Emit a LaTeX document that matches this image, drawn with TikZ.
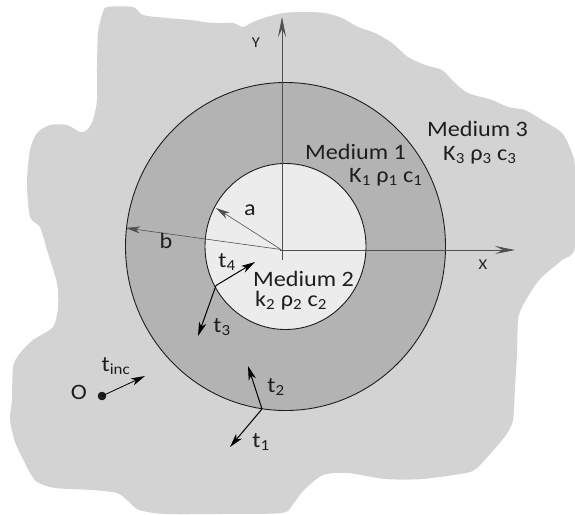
\documentclass[tikz,border=0pt]{standalone}
\usepackage{fontspec}
\setmainfont{Carlito}[FakeStretch=1.1]
\usetikzlibrary{arrows.meta}
\definecolor{bgthree}{HTML}{D3D3D3}
\definecolor{bgone}{HTML}{B3B3B3}
\definecolor{bgtwo}{HTML}{ECECEC}
\definecolor{ink}{HTML}{1E1E1E}
\definecolor{axisgray}{HTML}{505050}
\tikzset{
  lbl/.style={font=\fontsize{22}{24}\selectfont, inner sep=0pt, text=ink},
  smalllbl/.style={font=\fontsize{15}{17}\selectfont, inner sep=0pt, text=ink},
  axisline/.style={draw=axisgray, line width=0.8pt, -{Stealth[length=20pt,width=8pt,inset=8pt]}},
  radline/.style={draw=axisgray, line width=0.6pt, -{Stealth[length=14pt,width=7pt,inset=4pt]}},
  vecline/.style={draw=black, line width=1pt, -{Stealth[length=14pt,width=7.5pt,inset=4pt]}},
  rim/.style={draw=ink, line width=0.9pt}
}
\begin{document}
\begin{tikzpicture}[x=1pt,y=-1pt]
\useasboundingbox (0,0) rectangle (575,514);
% medium 3 blob
\fill[bgthree] plot[smooth cycle, tension=0.45] coordinates {
(107,7) (133,7) (143,15) (167,18) (190,20) (213,23) (233,23) (243,27) (253,22)
(267,17) (283,13) (300,12) (308,12) (325,13) (342,18) (358,27) (375,33) (392,43)
(408,57) (425,65) (442,70) (455,83) (468,93) (492,100) (508,107) (525,110)
(542,120) (562,133) (572,153) (575,170) (575,247) (562,260) (542,277) (532,290)
(522,307) (518,320) (517,353) (515,387) (513,420) (506,435) (491,453) (477,468)
(466,473) (422,479) (385,479) (348,473) (323,475) (304,490) (293,504) (282,513)
(220,514) (165,514) (139,510) (128,501) (117,493) (92,490) (55,488) (37,482)
(29,471) (22,457) (15,442) (10,420) (12,400) (13,367) (20,353) (33,340) (53,327)
(58,307) (57,283) (47,250) (40,227) (30,217) (27,183) (30,150) (37,133) (50,125)
(67,125) (80,132) (87,130) (93,120) (97,100) (97,67) (98,33) (102,15)};
% circles
\coordinate (c) at (285.5,246.5);
\path[fill=bgone, rim] (c) ellipse [x radius=160, y radius=164];
\path[fill=bgtwo, rim] (c) ellipse [x radius=80.5, y radius=83];
% axes
\coordinate (o) at (281,249.5);
\coordinate (ybot) at (282,260);
\coordinate (ytop) at (282,17);
\coordinate (xleft) at (280,250);
\coordinate (xright) at (515,250);
\draw[axisline] (ybot) -- (ytop);
\draw[axisline] (xleft) -- (xright);
\node[smalllbl] (ylab) at (256,43) {Y};
\node[smalllbl] (xlab) at (483,265) {X};
% radii
\coordinate (atip) at (216,208);
\coordinate (btip) at (126,228);
\draw[radline] (o) -- (atip);
\draw[radline] (o) -- (btip);
\node[lbl] (alab) at (250,210) {a};
\node[lbl] (blab) at (166,241) {b};
% labels of media
\node[lbl, anchor=base west] (m1) at (305,159) {Medium 1};
\node[lbl, anchor=base west] (p1) at (349,182) {K\textsubscript{1} ρ\textsubscript{1} c\textsubscript{1}};
\node[lbl, anchor=base west] (m3) at (427,136) {Medium 3};
\node[lbl, anchor=base west] (p3) at (443,160) {K\textsubscript{3} ρ\textsubscript{3} c\textsubscript{3}};
\node[lbl, anchor=base west] (m2) at (253,286) {Medium 2};
\node[lbl, anchor=base west] (p2) at (255,306) {k\textsubscript{2} ρ\textsubscript{2} c\textsubscript{2}};
% inner interface vectors
\coordinate (p34) at (216,285.5);
\coordinate (t4tip) at (255,262);
\coordinate (t3tip) at (198,336);
\draw[vecline] (p34) -- (t4tip);
\draw[vecline] (p34) -- (t3tip);
\node[lbl] (t4lab) at (227,262) {t\textsubscript{4}};
\node[lbl] (t3lab) at (222,327) {t\textsubscript{3}};
% outer interface vectors
\coordinate (p12) at (262,409);
\coordinate (t2tip) at (248,366);
\coordinate (t1tip) at (230,447);
\draw[vecline] (p12) -- (t2tip);
\draw[vecline] (p12) -- (t1tip);
\node[lbl] (t2lab) at (276,387) {t\textsubscript{2}};
\node[lbl] (t1lab) at (261,442) {t\textsubscript{1}};
% incident
\node[circle, fill=ink, draw=black, inner sep=0pt, minimum size=8pt] (odot) at (102,396) {};
\coordinate (tinctip) at (145,376);
\draw[vecline, line width=0.8pt] (odot.center) -- (tinctip);
\node[lbl] (olab) at (79,392) {O};
\node[lbl] (tinclab) at (116,366) {t\textsubscript{inc}};
\end{tikzpicture}
\end{document}
